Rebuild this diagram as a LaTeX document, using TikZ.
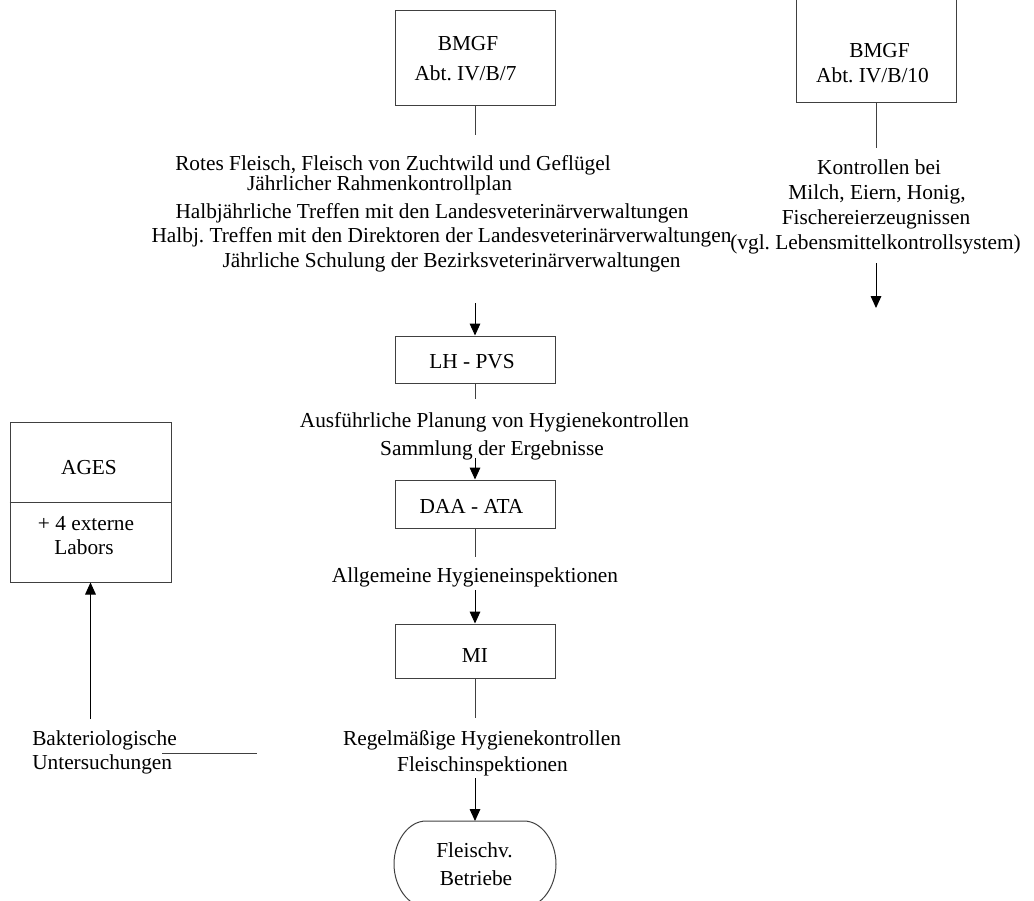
\documentclass[tikz,border=0pt]{standalone}
\usepackage{fontspec}
\setmainfont{Liberation Serif}
\usetikzlibrary{arrows.meta}
\frenchspacing
\begin{document}
\begin{tikzpicture}[x=0.75pt,y=-0.75pt,
  box/.style={draw=black!75, line width=0.75pt, inner sep=0pt},
  txt/.style={inner sep=0pt, anchor=base, font=\fontsize{16}{19}\selectfont},
  ln/.style={draw=black!75, line width=0.75pt},
  arr/.style={draw=black, line width=0.75pt, -{Triangle[width=8pt,length=9pt]}},
]
\useasboundingbox (0,0) rectangle (1034,900);

% boxes
\node[box, minimum width=120pt, minimum height=71.25pt] (b7) at (475,57.5) {};
\node[box, minimum width=120pt, minimum height=91.5pt] (b10) at (876,41) {};
\node[box, minimum width=120pt, minimum height=35.25pt] (lh) at (475,359.5) {};
\node[box, minimum width=120pt, minimum height=36pt] (daa) at (475,504) {};
\node[box, minimum width=120pt, minimum height=40.5pt] (mi) at (475,651) {};
\node[box, minimum width=120.75pt, minimum height=120pt] (ages) at (90.5,502) {};
\draw[ln] (ages.west) -- (ages.east);

% oval
\coordinate (fbtop) at (475,821);
\draw[ln] (426,821) -- (524,821) .. controls (541.7,821) and (556,841.3) .. (556,864)
  .. controls (556,886.7) and (541.7,907) .. (524,907) -- (426,907)
  .. controls (408.3,907) and (394,886.7) .. (394,864)
  .. controls (394,841.3) and (408.3,821) .. cycle;

% texts in boxes
\node[txt] (b7a) at (468,50) {BMGF};
\node[txt] (b7b) at (465.5,80) {Abt. IV/B/7};
\node[txt] (b10a) at (879.5,57) {BMGF};
\node[txt] (b10b) at (872.5,82) {Abt. IV/B/10};
\node[txt] (lht) at (472,368) {LH - PVS};
\node[txt] (daat) at (471.5,513) {DAA - ATA};
\node[txt] (mit) at (475,662) {MI};
\node[txt] (agesa) at (89,474) {AGES};
\node[txt] (agesb) at (86,530) {+ 4 externe};
\node[txt] (agesc) at (84,554) {Labors};
\node[txt] (fba) at (474.5,857) {Fleischv.};
\node[txt] (fbb) at (476,885) {Betriebe};

% free texts
\node[txt] (t1) at (393,170) {Rotes Fleisch, Fleisch von Zuchtwild und Geflügel};
\node[txt] (t2) at (379.5,190) {Jährlicher Rahmenkontrollplan};
\node[txt] (t3) at (432,218) {Halbjährliche Treffen mit den Landesveterinärverwaltungen};
\node[txt] (t4) at (441.5,242) {Halbj. Treffen mit den Direktoren der Landesveterinärverwaltungen};
\node[txt] (t5) at (451.5,267) {Jährliche Schulung der Bezirksveterinärverwaltungen};

\node[txt] (k1) at (879,174) {Kontrollen bei};
\node[txt] (k2) at (877,199) {Milch, Eiern, Honig,};
\node[txt] (k3) at (876,224) {Fischereierzeugnissen};
\node[txt] (k4) at (875.5,249) {(vgl. Lebensmittelkontrollsystem)};

\node[txt] (p1) at (494.5,427) {Ausführliche Planung von Hygienekontrollen};
\node[txt] (p2) at (492,455) {Sammlung der Ergebnisse};
\node[txt] (al) at (475,582) {Allgemeine Hygieneinspektionen};
\node[txt] (r1) at (482,745) {Regelmäßige Hygienekontrollen};
\node[txt] (r2) at (482.5,771) {Fleischinspektionen};

\node[txt, anchor=base west] (bk1) at (32,745) {Bakteriologische};
\node[txt, anchor=base west] (bk2) at (32,769) {Untersuchungen};

% free connector ends
\coordinate (c1) at (475,135);
\coordinate (c2) at (475,303);
\coordinate (c3) at (475,399);
\coordinate (c4) at (475,458);
\coordinate (c5) at (475,557);
\coordinate (c6) at (475,590);
\coordinate (c7) at (475,718);
\coordinate (c8) at (475,778);
\coordinate (d1) at (876,148);
\coordinate (d2) at (876,263);
\coordinate (d3) at (876,308);
\coordinate (e1) at (90.5,719);
\coordinate (h1) at (162,753);
\coordinate (h2) at (257,753);

% connectors
\draw[ln] (b7.south) -- (c1);
\draw[arr] (c2) -- (lh.north);
\draw[ln] (lh.south) -- (c3);
\draw[arr] (c4) -- (daa.north);
\draw[ln] (daa.south) -- (c5);
\draw[arr] (c6) -- (mi.north);
\draw[ln] (mi.south) -- (c7);
\draw[arr] (c8) -- (fbtop);
\draw[ln] (b10.south) -- (d1);
\draw[arr] (d2) -- (d3);
\draw[arr] (e1) -- (ages.south);
\draw[ln] (h1) -- (h2);
\end{tikzpicture}
\end{document}
